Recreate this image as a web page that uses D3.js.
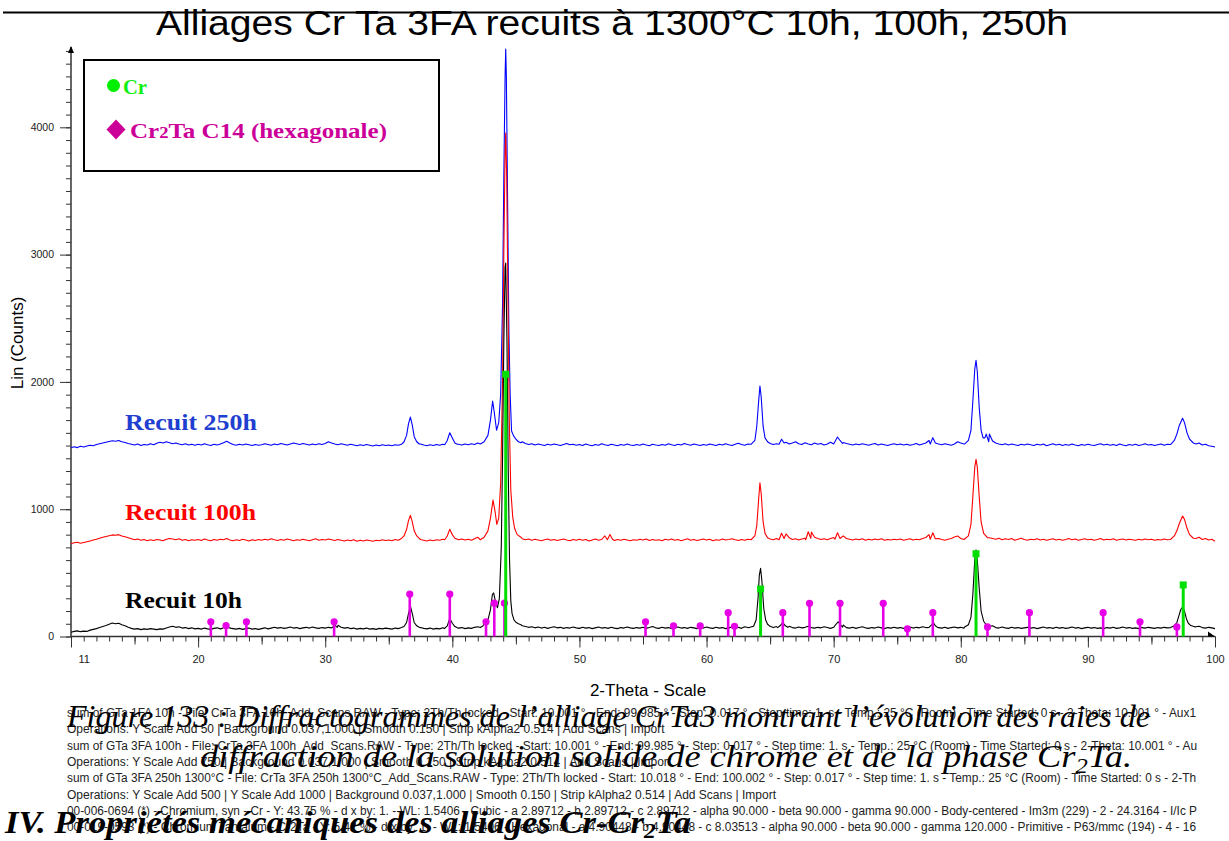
<!DOCTYPE html>
<html><head><meta charset="utf-8">
<script src="https://cdn.jsdelivr.net/npm/d3@7"></script>
<style>body{margin:0;background:#fff}svg{display:block}</style>
</head><body>
<svg id="chart" width="1229" height="841"><defs><clipPath id="infoclip"><rect x="0" y="690" width="1198" height="151"></rect></clipPath></defs></svg>
<script>
// ---------- DATA ----------
const baseStart = 10, baseStep = 0.25;   // background samples every 0.25° from 10° to 100°
const base10h = [34,40,44,38,42,40,50,56,62,70,78,86,96,106,100,104,92,84,72,64,
 58,62,54,60,56,62,58,54,60,58,66,74,80,72,76,66,70,62,68,60,
 64,58,66,60,56,64,68,60,66,88,70,62,58,64,56,62,66,58,62,56,
 62,68,60,66,72,66,70,64,68,74,66,70,62,68,72,66,74,68,64,70,
 66,72,68,74,88,72,66,70,62,66,58,64,60,66,58,62,56,64,60,66,
 62,58,66,62,70,80,140,220,110,80,70,64,60,66,58,64,60,68,76,130,
 100,74,66,70,62,68,64,72,76,70,90,112,128,250,240,500,2800,900,200,130,
 110,96,84,78,72,76,68,74,66,72,64,70,76,68,72,64,70,66,74,68,
 64,72,66,70,62,68,74,66,70,64,72,66,62,70,66,74,68,64,70,66,
 72,64,70,78,68,64,72,66,70,62,68,74,66,70,64,72,68,62,70,66,
 74,68,64,72,66,70,62,68,74,66,72,64,76,70,110,300,520,200,96,80,
 74,70,78,72,96,104,80,70,66,74,68,72,80,70,66,72,68,76,70,64,
 72,80,110,90,70,66,72,64,70,76,68,64,70,66,74,68,62,70,66,72,
 66,70,64,68,74,66,72,68,76,70,96,100,78,70,66,72,64,70,74,68,
 72,66,70,80,120,600,500,140,90,78,84,70,66,74,68,64,72,66,70,64,
 68,72,66,70,62,68,74,66,70,64,72,66,70,64,68,74,66,70,62,68,
 72,66,70,64,68,62,70,66,72,64,68,74,66,70,64,68,62,70,66,72,
 68,64,70,66,72,68,80,74,90,140,220,200,110,84,76,80,70,66,72,68,
 62];
const base100h = [728,736,740,732,738,744,750,758,764,772,780,786,792,798,796,800,790,784,776,768,
 760,766,756,762,752,760,754,762,758,752,764,770,766,760,768,756,762,752,760,756,
 762,754,766,758,752,762,756,764,760,770,758,752,760,754,764,758,750,760,754,762,
 756,764,758,768,760,754,762,756,766,760,752,760,756,764,758,752,760,768,756,762,
 758,766,760,754,762,756,750,758,752,760,748,756,750,758,754,748,756,752,760,754,
 758,752,762,756,766,780,840,930,830,780,762,756,750,758,752,760,756,764,780,830,
 800,770,760,766,758,764,756,768,780,800,840,930,1060,990,890,1200,3800,1600,950,830,
 790,778,768,760,766,756,764,758,752,760,766,756,762,754,760,766,758,752,762,756,
 764,756,762,750,758,766,756,762,790,774,760,754,762,756,764,758,752,760,756,764,
 758,766,754,762,756,760,752,764,758,766,756,762,752,760,768,756,762,754,760,766,
 758,764,752,760,756,766,758,762,768,760,754,762,756,764,780,900,1180,950,800,772,
 766,760,770,764,790,806,776,762,768,758,766,772,800,820,780,770,762,768,760,770,
 778,800,812,790,770,764,758,766,760,768,756,764,758,766,760,768,756,762,758,764,
 760,766,756,762,768,758,764,760,770,778,800,812,786,770,762,756,764,770,782,790,
 770,762,768,786,850,1200,1300,900,800,776,770,764,772,760,768,762,770,756,764,772,
 762,756,764,760,768,758,764,756,762,768,758,764,756,762,770,760,766,756,762,768,
 760,764,756,762,770,758,764,760,768,756,762,766,758,764,760,756,764,758,766,760,
 764,756,762,758,766,760,776,790,830,900,940,920,840,790,770,780,762,770,758,764,
 748];
const base250h = [1482,1490,1484,1494,1488,1496,1502,1498,1508,1514,1520,1526,1532,1538,1534,1540,1530,1524,1516,1510,
 1504,1512,1500,1508,1504,1514,1506,1518,1526,1520,1530,1522,1514,1520,1512,1506,1514,1504,1510,1502,
 1510,1504,1514,1506,1500,1510,1504,1512,1522,1534,1520,1508,1502,1510,1504,1512,1506,1500,1508,1502,
 1506,1514,1508,1502,1512,1506,1516,1510,1504,1512,1520,1514,1508,1516,1510,1504,1512,1506,1514,1508,
 1516,1530,1520,1512,1506,1514,1508,1502,1510,1504,1498,1506,1500,1508,1502,1496,1504,1498,1506,1500,
 1504,1498,1506,1502,1512,1530,1600,1710,1580,1526,1512,1504,1498,1506,1500,1508,1502,1510,1540,1590,
 1560,1520,1510,1504,1512,1506,1514,1508,1520,1540,1570,1700,1840,1700,1630,1900,4500,2400,1620,1560,
 1540,1524,1530,1516,1508,1514,1504,1512,1506,1500,1510,1504,1512,1506,1500,1508,1516,1506,1510,1502,
 1508,1500,1512,1504,1498,1508,1502,1514,1506,1500,1510,1504,1498,1508,1502,1512,1504,1500,1508,1502,
 1512,1504,1498,1510,1504,1500,1508,1502,1514,1506,1500,1510,1504,1516,1508,1502,1512,1506,1500,1508,
 1502,1512,1506,1500,1510,1504,1514,1506,1500,1510,1518,1508,1502,1512,1530,1700,1950,1700,1530,1512,
 1520,1508,1514,1536,1550,1526,1512,1520,1530,1514,1508,1522,1512,1506,1520,1510,1516,1504,1512,1526,
 1540,1566,1548,1524,1516,1510,1504,1512,1506,1514,1508,1502,1510,1516,1504,1512,1506,1500,1508,1514,
 1506,1512,1504,1510,1502,1508,1516,1504,1512,1520,1540,1560,1530,1512,1506,1514,1508,1502,1512,1530,
 1520,1512,1528,1540,1620,2100,2050,1640,1560,1590,1536,1520,1512,1506,1514,1504,1512,1506,1500,1510,
 1504,1512,1506,1500,1510,1504,1512,1498,1506,1514,1504,1510,1500,1508,1502,1512,1504,1498,1508,1502,
 1510,1504,1500,1508,1514,1504,1510,1502,1508,1500,1512,1504,1498,1508,1502,1510,1500,1506,1514,1504,
 1508,1500,1506,1512,1502,1510,1520,1540,1580,1650,1700,1680,1600,1540,1512,1520,1504,1510,1498,1494,
 1488];

// diffraction peaks [2θ, counts]
const peaks10h = [
 [[21.9,64],[22.05,74],[22.2,92],[22.35,76],[22.5,66]],
 [[30.55,70],[30.75,90],[30.95,72]],
 [[36.0,70],[36.2,78],[36.4,110],[36.55,180],[36.7,238],[36.85,180],[37.0,110],[37.2,84],[37.4,72]],
 [[39.4,64],[39.6,84],[39.8,142],[40.0,104],[40.2,78],[40.4,68]],
 [[42.2,70],[42.4,82],[42.6,112],[42.8,130],[43.0,210],[43.15,330],[43.25,342],[43.4,270],[43.55,226],[43.7,300],[43.85,700],[43.95,1400],[44.05,2300],[44.15,2900],[44.2,2934],[44.3,2300],[44.4,1300],[44.5,600],[44.6,280],[44.7,180],[44.85,130],[45.0,112],[45.2,100],[45.4,92]],
 [[63.4,72],[63.7,80],[63.9,130],[64.05,300],[64.15,480],[64.25,536],[64.35,440],[64.5,220],[64.65,130],[64.8,96],[65.0,80]],
 [[65.6,70],[65.8,86],[66.0,109],[66.2,84],[66.4,72]],
 [[70.0,72],[70.2,98],[70.35,116],[70.5,96],[70.7,74]],
 [[77.5,72],[77.7,92],[77.85,108],[78.0,84],[78.2,70]],
 [[80.3,74],[80.6,92],[80.8,150],[80.95,330],[81.1,600],[81.2,680],[81.3,600],[81.45,380],[81.6,200],[81.8,120],[82.0,92],[82.3,80]],
 [[96.5,70],[96.8,84],[97.0,110],[97.15,160],[97.3,210],[97.45,232],[97.6,200],[97.75,140],[97.9,104],[98.1,86],[98.4,76]]
];
const peaks100h = [
 [[36.0,770],[36.2,790],[36.4,840],[36.55,910],[36.7,952],[36.85,900],[37.0,830],[37.2,790],[37.4,770]],
 [[39.4,760],[39.6,790],[39.8,842],[40.0,800],[40.2,772],[40.4,764]],
 [[42.2,760],[42.5,780],[42.8,830],[43.0,930],[43.2,1072],[43.35,990],[43.5,881],[43.65,930],[43.8,1200],[43.95,2000],[44.05,3000],[44.15,3800],[44.2,3955],[44.28,3600],[44.38,2600],[44.48,1700],[44.6,1150],[44.75,940],[44.9,850],[45.1,800],[45.4,780]],
 [[52.2,760],[52.4,802],[52.6,764]],
 [[63.5,760],[63.8,790],[63.95,870],[64.1,1080],[64.2,1208],[64.3,1120],[64.45,900],[64.6,810],[64.8,776]],
 [[65.7,760],[65.9,811],[66.1,770]],
 [[67.8,760],[68.0,823],[68.2,772]],
 [[70.1,764],[70.3,815],[70.5,770]],
 [[77.6,764],[77.8,815],[78.0,768]],
 [[80.3,766],[80.6,790],[80.8,880],[80.95,1100],[81.1,1330],[81.2,1392],[81.3,1330],[81.45,1100],[81.6,900],[81.8,810],[82.1,776]],
 [[96.5,762],[96.8,790],[97.0,830],[97.2,890],[97.45,947],[97.6,920],[97.8,850],[98.0,800],[98.3,772]]
];
const peaks250h = [
 [[36.0,1510],[36.2,1530],[36.4,1580],[36.55,1670],[36.7,1724],[36.85,1660],[37.0,1570],[37.2,1530],[37.4,1512]],
 [[39.4,1506],[39.6,1540],[39.8,1601],[40.0,1560],[40.2,1520],[40.4,1510]],
 [[42.2,1512],[42.5,1530],[42.8,1580],[43.0,1700],[43.17,1850],[43.3,1760],[43.48,1620],[43.65,1680],[43.8,1900],[43.95,2600],[44.05,3600],[44.15,4400],[44.2,4615],[44.25,4400],[44.35,3400],[44.45,2400],[44.55,1900],[44.66,1614],[44.8,1580],[45.0,1550],[45.2,1530],[45.4,1522]],
 [[63.5,1510],[63.8,1540],[63.95,1650],[64.1,1850],[64.2,1968],[64.3,1880],[64.45,1650],[64.6,1560],[64.8,1530],[65.0,1516]],
 [[65.7,1510],[65.9,1550],[66.1,1520]],
 [[70.0,1512],[70.3,1567],[70.5,1540],[70.7,1516]],
 [[77.6,1512],[77.8,1562],[78.0,1520]],
 [[80.3,1512],[80.6,1540],[80.8,1620],[80.95,1850],[81.1,2100],[81.2,2170],[81.3,2080],[81.45,1800],[81.6,1620],[81.75,1560],[81.9,1560],[82.0,1590],[82.2,1530]],
 [[96.5,1508],[96.8,1540],[97.0,1590],[97.2,1660],[97.45,1714],[97.6,1680],[97.8,1600],[98.0,1550],[98.3,1520]]
];

// reference sticks (PDF cards)
const crSticks = [[44.2,2060],[64.25,373],[81.2,650],[97.5,405]];
const cr2taSticks = [[21.0,115],[22.2,85],[23.8,115],[30.7,115],[36.65,334],[39.8,334],[42.65,115],[43.3,262],[44.1,262],
 [55.2,116],[57.4,83],[59.5,83],[61.7,187],[62.2,80],[66.0,187],[68.1,261],[70.5,261],[73.9,261],[75.8,60],
 [77.8,187],[82.1,75],[85.4,187],[91.2,187],[94.1,116],[97.0,75]];

const xTickLabels = [11,20,30,40,50,60,70,80,90,100];
const yTickLabels = [0,1000,2000,3000,4000];
const seriesNames = ["Recuit 10h","Recuit 100h","Recuit 250h"];
const seriesColors = ["#000000","#ff0000","#0000ff"];
const labelColors = ["#000000","#ff0000","#1f3fd0"];
const titleText = "Alliages Cr Ta 3FA recuits à 1300°C 10h, 100h, 250h";
const infoLines = [
 "sum of GTa 1FA 10h - File: CrTa 3FA 10h_Add_Scans.RAW - Type: 2Th/Th locked - Start: 10.001 ° - End: 99.985 ° - Step: 0.017 ° - Step time: 1. s - Temp.: 25 °C (Room) - Time Started: 0 s - 2-Theta: 10.001 ° - Aux1",
 "Operations: Y Scale Add 50 | Background 0.037,1.000 | Smooth 0.150 | Strip kAlpha2 0.514 | Add Scans | Import",
 "sum of GTa 3FA 100h - File: CrTa 3FA 100h_Add_Scans.RAW - Type: 2Th/Th locked - Start: 10.001 ° - End: 99.985 ° - Step: 0.017 ° - Step time: 1. s - Temp.: 25 °C (Room) - Time Started: 0 s - 2-Theta: 10.001 ° - Au",
 "Operations: Y Scale Add 750 | Background 0.037,1.000 | Smooth 0.150 | Strip kAlpha2 0.514 | Add Scans | Import",
 "sum of GTa 3FA 250h 1300°C - File: CrTa 3FA 250h 1300°C_Add_Scans.RAW - Type: 2Th/Th locked - Start: 10.018 ° - End: 100.002 ° - Step: 0.017 ° - Step time: 1. s - Temp.: 25 °C (Room) - Time Started: 0 s - 2-Th",
 "Operations: Y Scale Add 500 | Y Scale Add 1000 | Background 0.037,1.000 | Smooth 0.150 | Strip kAlpha2 0.514 | Add Scans | Import",
 "00-006-0694 (*) - Chromium, syn - Cr - Y: 43.75 % - d x by: 1. - WL: 1.5406 - Cubic - a 2.89712 - b 2.89712 - c 2.89712 - alpha 90.000 - beta 90.000 - gamma 90.000 - Body-centered - Im3m (229) - 2 - 24.3164 - I/Ic P",
 "00-019-0593 (*) - Chromium Tantalum - Cr2Ta - Y: 5.42 % - d x by: 1. - WL: 1.5406 - Hexagonal - a 4.90448 - b 4.90448 - c 8.03513 - alpha 90.000 - beta 90.000 - gamma 120.000 - Primitive - P63/mmc (194) - 4 - 16"
];
const infoEnds = [1196,null,1197,null,1196,null,1197,1196];   // right edge where each cropped line stops

// ---------- DRAW ----------
const svg = d3.select("#chart");
const x = d3.scaleLinear().domain([10,100]).range([71,1215]);
const y = d3.scaleLinear().domain([0,4631]).range([636.5,47]);

function merge(base, peaks){
  let pts = base.map((v,i)=>[baseStart+i*baseStep, v]);
  peaks.forEach(pk=>{
    const lo = pk[0][0], hi = pk[pk.length-1][0];
    pts = pts.filter(p=>p[0]<lo || p[0]>hi).concat(pk);
  });
  return pts.sort((a,b)=>a[0]-b[0]);
}
const series = [merge(base10h,peaks10h), merge(base100h,peaks100h), merge(base250h,peaks250h)];

// title + rule
svg.append("line").attr("x1",3).attr("x2",1229).attr("y1",12.5).attr("y2",12.5)
  .attr("stroke","#000").attr("stroke-width",2);
svg.append("text").attr("x",156).attr("y",35).attr("textLength",912).attr("lengthAdjust","spacingAndGlyphs")
  .style("font-family","Liberation Sans, Arial, sans-serif").style("font-size","35px").text(titleText);

// axes
const axG = svg.append("g").attr("color","#333");
const gx = axG.append("g").attr("transform",`translate(0,${y(0)})`);
gx.append("g").call(d3.axisBottom(x).tickValues(d3.range(10,101,1)).tickSize(5).tickFormat(""));
gx.append("g").call(d3.axisBottom(x).tickValues(d3.range(15,100,10)).tickSize(8).tickFormat(""));
gx.append("g").call(d3.axisBottom(x).tickValues(d3.range(10,101,10)).tickSize(11).tickFormat(""));
gx.append("g").call(d3.axisBottom(x).tickValues(xTickLabels).tickSize(0).tickPadding(19).tickFormat(d3.format("d")));
gx.selectAll(".domain").remove();
gx.selectAll("text").style("font-family","Liberation Sans, Arial, sans-serif").style("font-size","11px").attr("fill","#222");

const gy = axG.append("g").attr("transform",`translate(${x(10)},0)`);
gy.append("g").call(d3.axisLeft(y).tickValues(d3.range(0,4601,100)).tickSize(5).tickFormat(""));
gy.append("g").call(d3.axisLeft(y).tickValues(yTickLabels).tickSize(11).tickPadding(6).tickFormat(d3.format("d")));
gy.selectAll(".domain").remove();
gy.selectAll("text").style("font-family","Liberation Sans, Arial, sans-serif").style("font-size","10.5px").attr("fill","#222");

axG.append("line").attr("x1",x(10)).attr("x2",x(100)).attr("y1",y(0)).attr("y2",y(0)).attr("stroke","#333").attr("stroke-width",1.5);
axG.append("line").attr("x1",x(10)).attr("x2",x(10)).attr("y1",y(0)).attr("y2",47).attr("stroke","#333").attr("stroke-width",1.5);
axG.append("path").attr("d",`M${x(10)-3},53 L${x(10)},46 L${x(10)+3},53 Z`).attr("fill","#000");
axG.append("path").attr("d",`M${x(100)-7},${y(0)-5} L${x(100)},${y(0)} L${x(100)-7},${y(0)} Z`).attr("fill","#000");

svg.append("text").attr("transform",`translate(23,343) rotate(-90)`).attr("text-anchor","middle")
  .style("font-family","Liberation Sans, Arial, sans-serif").style("font-size","17px").text("Lin (Counts)");
svg.append("text").attr("x",648).attr("y",696).attr("text-anchor","middle")
  .style("font-family","Liberation Sans, Arial, sans-serif").style("font-size","17px").text("2-Theta - Scale");

// curves (250h, 100h, 10h)
const line = d3.line().x(d=>x(d[0])).y(d=>y(d[1]));
[2,1,0].forEach(i=>{
  svg.append("path").datum(series[i]).attr("d",line).attr("fill","none")
    .attr("stroke",seriesColors[i]).attr("stroke-width",1.1).attr("stroke-linejoin","round");
});

// sticks
const stG = svg.append("g");
stG.selectAll("line.m").data(cr2taSticks).join("line").attr("class","m")
  .attr("x1",d=>x(d[0])).attr("x2",d=>x(d[0])).attr("y1",y(0)).attr("y2",d=>y(d[1]))
  .attr("stroke","#e600e6").attr("stroke-width",2.6);
stG.selectAll("circle.m").data(cr2taSticks).join("circle").attr("class","m")
  .attr("cx",d=>x(d[0])).attr("cy",d=>y(d[1])).attr("r",3.6).attr("fill","#e600e6");
stG.selectAll("line.c").data(crSticks).join("line").attr("class","c")
  .attr("x1",d=>x(d[0])).attr("x2",d=>x(d[0])).attr("y1",y(0)).attr("y2",d=>y(d[1]))
  .attr("stroke","#00e000").attr("stroke-width",3);
stG.selectAll("rect.c").data(crSticks).join("rect").attr("class","c")
  .attr("x",d=>x(d[0])-3.5).attr("y",d=>y(d[1])-3.5).attr("width",7).attr("height",7).attr("fill","#00e000");

// series labels
const serif = "Liberation Serif, 'DejaVu Serif', serif";
const labPos = [[125,608,117],[125,520,131],[125,430,132]];
seriesNames.forEach((n,i)=>{
  svg.append("text").attr("x",labPos[i][0]).attr("y",labPos[i][1]).attr("textLength",labPos[i][2]).attr("lengthAdjust","spacingAndGlyphs")
    .style("font-family",serif).style("font-weight","bold").style("font-size","23px").attr("fill",labelColors[i]).text(n);
});

// legend
svg.append("rect").attr("x",84).attr("y",60).attr("width",355).attr("height",111).attr("fill","#fff").attr("stroke","#000").attr("stroke-width",2);
svg.append("circle").attr("cx",113.5).attr("cy",85.5).attr("r",6.5).attr("fill","#00ee00");
svg.append("text").attr("x",123).attr("y",94).attr("textLength",24).attr("lengthAdjust","spacingAndGlyphs")
  .style("font-family",serif).style("font-weight","bold").style("font-size","22px").attr("fill","#11ee11").text("Cr");
svg.append("path").attr("d","M116,119.5 L125.5,129.5 L116,139.5 L106.5,129.5 Z").attr("fill","#cc0099");
const lg = svg.append("text").attr("x",130).attr("y",138).attr("textLength",257).attr("lengthAdjust","spacingAndGlyphs")
  .style("font-family",serif).style("font-weight","bold").style("font-size","21.5px").attr("fill","#cc0099");
lg.append("tspan").text("Cr");
lg.append("tspan").style("font-size","16px").text("2");
lg.append("tspan").text("Ta C14 (hexagonale)");

// info text (cropped lines are fitted to where the reference crops them)
const info = svg.append("g").attr("clip-path","url(#infoclip)");
infoLines.forEach((t,i)=>{
  const tx = info.append("text").attr("x",67).attr("y",717+i*16.3)
    .style("font-family","Liberation Sans, Arial, sans-serif").style("font-size","12px").attr("fill","#222").text(t);
  if (infoEnds[i]) tx.attr("textLength",infoEnds[i]-67).attr("lengthAdjust","spacingAndGlyphs");
});

// document caption overlay
svg.append("text").attr("x",67).attr("y",727).attr("textLength",1083).attr("lengthAdjust","spacingAndGlyphs")
  .style("font-family",serif).style("font-style","italic").style("font-size","31px").attr("fill","#000")
  .text("Figure 133 : Diffractogrammes de l’alliage CrTa3 montrant l’évolution des raies de");
const cap2 = svg.append("text").attr("x",200).attr("y",767).attr("textLength",932).attr("lengthAdjust","spacingAndGlyphs")
  .style("font-family",serif).style("font-style","italic").style("font-size","31px").attr("fill","#000");
cap2.append("tspan").text("diffraction de la solution solide de chrome et de la phase Cr");
cap2.append("tspan").attr("dy",6).style("font-size","21px").text("2");
cap2.append("tspan").attr("dy",-6).text("Ta.");
const cap3 = svg.append("text").attr("x",5).attr("y",833).attr("textLength",686).attr("lengthAdjust","spacingAndGlyphs")
  .style("font-family",serif).style("font-style","italic").style("font-weight","bold").style("font-size","31px").attr("fill","#000");
cap3.append("tspan").text("IV. Propriétés mécaniques des alliages Cr-Cr");
cap3.append("tspan").attr("dy",5).style("font-size","21px").text("2");
cap3.append("tspan").attr("dy",-5).text("Ta");
</script>
</body></html>
